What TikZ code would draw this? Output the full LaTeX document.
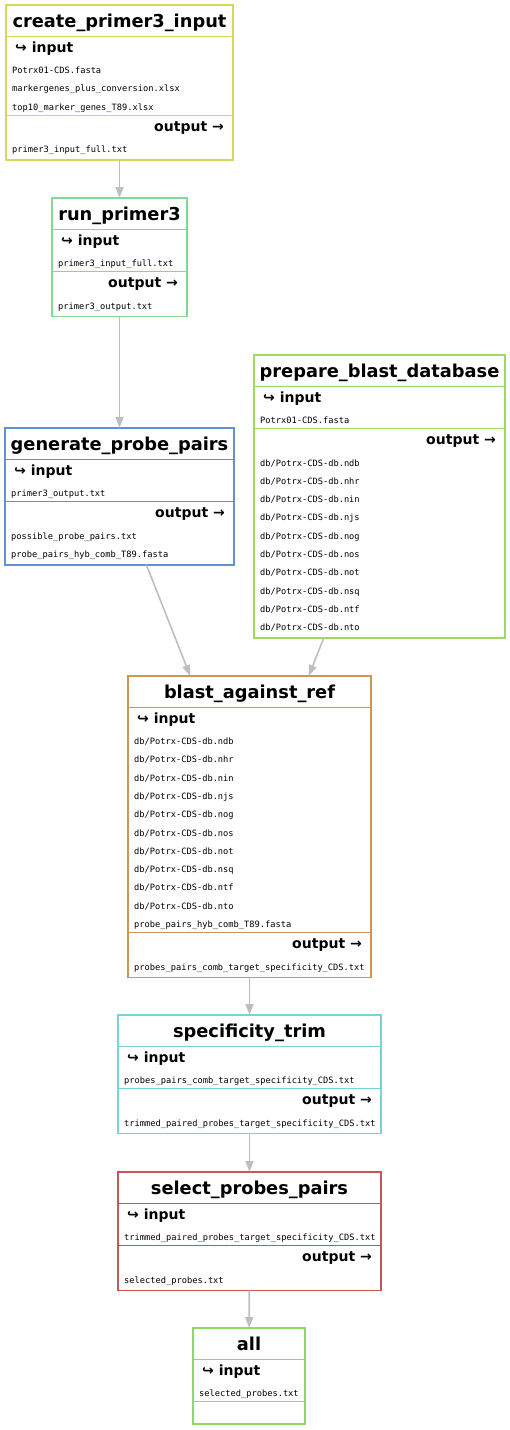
\documentclass[tikz,border=0pt]{standalone}
\usepackage{fontspec}
\setmainfont{DejaVu Sans}
\newfontfamily\filefont{DejaVu Sans Mono}
\usetikzlibrary{arrows.meta}
\definecolor{cCreate}{RGB}{214,217,87}
\definecolor{cRun}{RGB}{130,217,150}
\definecolor{cPrep}{RGB}{160,217,95}
\definecolor{cGen}{RGB}{95,145,217}
\definecolor{cBlast}{RGB}{205,149,87}
\definecolor{cSpec}{RGB}{120,212,212}
\definecolor{cSel}{RGB}{200,85,85}
\definecolor{cAll}{RGB}{140,217,100}
\definecolor{edgegray}{RGB}{190,190,190}
\tikzset{
  rulebox/.style={draw, line width=1.6pt, inner sep=0pt, outer sep=0pt, anchor=north west, fill=white, line join=miter},
  sepline/.style={line width=0.9pt},
  ttl/.style={inner sep=0pt, anchor=base, font=\fontsize{17.8}{20}\selectfont\bfseries},
  inlbl/.style={inner sep=0pt, anchor=base west, font=\fontsize{14}{16}\selectfont\bfseries},
  outlbl/.style={inner sep=0pt, anchor=base east, font=\fontsize{14}{16}\selectfont\bfseries},
  fname/.style={inner sep=0pt, anchor=base west, font=\fontsize{8.7}{10}\selectfont\filefont},
  flow/.style={draw=edgegray, line width=1.6pt, -{Triangle[width=8pt,length=11pt]}}
}
\begin{document}
\begin{tikzpicture}[x=1pt,y=-1pt]
\useasboundingbox (0,0) rectangle (510,1430);

% create_primer3_input
\node[rulebox, draw=cCreate, minimum width=227pt, minimum height=155.1pt] (create) at (6,5) {};
\draw[sepline, cCreate] (6,36) -- (233,36);
\draw[sepline, cCreate] (6,115.1) -- (233,115.1);
\node[ttl] (create-t) at (119.5,27.5) {create\_primer3\_input};
\node[inlbl] (create-in) at (15,52.5) {↪ input};
\node[fname] (create-i1) at (12,73.5) {Potrx01-CDS.fasta};
\node[fname] (create-i2) at (12,91.8) {markergenes\_plus\_conversion.xlsx};
\node[fname] (create-i3) at (12,110.1) {top10\_marker\_genes\_T89.xlsx};
\node[outlbl] (create-out) at (224,131.1) {output →};
\node[fname] (create-o1) at (12,152.6) {primer3\_input\_full.txt};

% run_primer3
\node[rulebox, draw=cRun, minimum width=135pt, minimum height=118.5pt] (run) at (52,198) {};
\draw[sepline, cRun] (52,229) -- (187,229);
\draw[sepline, cRun] (52,271.5) -- (187,271.5);
\node[ttl] (run-t) at (119.5,220.5) {run\_primer3};
\node[inlbl] (run-in) at (61,245.5) {↪ input};
\node[fname] (run-i1) at (58,266.5) {primer3\_input\_full.txt};
\node[outlbl] (run-out) at (178,287.5) {output →};
\node[fname] (run-o1) at (58,309) {primer3\_output.txt};

% prepare_blast_database
\node[rulebox, draw=cPrep, minimum width=251pt, minimum height=283.2pt] (prep) at (254,355) {};
\draw[sepline, cPrep] (254,386) -- (505,386);
\draw[sepline, cPrep] (254,428.5) -- (505,428.5);
\node[ttl] (prep-t) at (379.5,377.5) {prepare\_blast\_database};
\node[inlbl] (prep-in) at (263,402.5) {↪ input};
\node[fname] (prep-i1) at (260,423.5) {Potrx01-CDS.fasta};
\node[outlbl] (prep-out) at (496,444.5) {output →};
\foreach \f [count=\k from 0] in {ndb,nhr,nin,njs,nog,nos,not,nsq,ntf,nto}
  \node[fname] (prep-o\k) at (260,{466+18.3*\k}) {db/Potrx-CDS-db.\f};

% generate_probe_pairs
\node[rulebox, draw=cGen, minimum width=229pt, minimum height=136.8pt] (gen) at (5,428) {};
\draw[sepline, cGen] (5,459) -- (234,459);
\draw[sepline, cGen] (5,501.5) -- (234,501.5);
\node[ttl] (gen-t) at (119.5,450.5) {generate\_probe\_pairs};
\node[inlbl] (gen-in) at (14,475.5) {↪ input};
\node[fname] (gen-i1) at (11,496.5) {primer3\_output.txt};
\node[outlbl] (gen-out) at (225,517.5) {output →};
\node[fname] (gen-o1) at (11,539) {possible\_probe\_pairs.txt};
\node[fname] (gen-o2) at (11,557.3) {probe\_pairs\_hyb\_comb\_T89.fasta};

% blast_against_ref
\node[rulebox, draw=cBlast, minimum width=243pt, minimum height=301.5pt] (blast) at (128,676) {};
\draw[sepline, cBlast] (128,707) -- (371,707);
\draw[sepline, cBlast] (128,932.5) -- (371,932.5);
\node[ttl] (blast-t) at (249.5,698.5) {blast\_against\_ref};
\node[inlbl] (blast-in) at (137,723.5) {↪ input};
\foreach \f [count=\k from 0] in {ndb,nhr,nin,njs,nog,nos,not,nsq,ntf,nto}
  \node[fname] (blast-i\k) at (134,{744.5+18.3*\k}) {db/Potrx-CDS-db.\f};
\node[fname] (blast-i10) at (134,927.5) {probe\_pairs\_hyb\_comb\_T89.fasta};
\node[outlbl] (blast-out) at (362,948.5) {output →};
\node[fname] (blast-o1) at (134,970) {probes\_pairs\_comb\_target\_specificity\_CDS.txt};

% specificity_trim
\node[rulebox, draw=cSpec, minimum width=263pt, minimum height=118.5pt] (spec) at (118,1015) {};
\draw[sepline, cSpec] (118,1046) -- (381,1046);
\draw[sepline, cSpec] (118,1088.5) -- (381,1088.5);
\node[ttl] (spec-t) at (249.5,1037.5) {specificity\_trim};
\node[inlbl] (spec-in) at (127,1062.5) {↪ input};
\node[fname] (spec-i1) at (124,1083.5) {probes\_pairs\_comb\_target\_specificity\_CDS.txt};
\node[outlbl] (spec-out) at (372,1104.5) {output →};
\node[fname] (spec-o1) at (124,1126) {trimmed\_paired\_probes\_target\_specificity\_CDS.txt};

% select_probes_pairs
\node[rulebox, draw=cSel, minimum width=263pt, minimum height=118.5pt] (sel) at (118,1172) {};
\draw[sepline, cSel] (118,1203) -- (381,1203);
\draw[sepline, cSel] (118,1245.5) -- (381,1245.5);
\node[ttl] (sel-t) at (249.5,1194.5) {select\_probes\_pairs};
\node[inlbl] (sel-in) at (127,1219.5) {↪ input};
\node[fname] (sel-i1) at (124,1240.5) {trimmed\_paired\_probes\_target\_specificity\_CDS.txt};
\node[outlbl] (sel-out) at (372,1261.5) {output →};
\node[fname] (sel-o1) at (124,1283) {selected\_probes.txt};

% all
\node[rulebox, draw=cAll, minimum width=112pt, minimum height=96pt] (all) at (193,1328) {};
\draw[sepline, cAll] (193,1359) -- (305,1359);
\draw[sepline, cAll] (193,1401.5) -- (305,1401.5);
\node[ttl] (all-t) at (249,1350.5) {all};
\node[inlbl] (all-in) at (202,1375.5) {↪ input};
\node[fname] (all-i1) at (199,1396.5) {selected\_probes.txt};

% connectors
\draw[flow] (create) -- (run);
\draw[flow] (run) -- (gen);
\draw[flow] (gen) -- (blast);
\draw[flow] (prep) -- (blast);
\draw[flow] (blast) -- (spec);
\draw[flow] (spec) -- (sel);
\draw[flow] (sel) -- (all);
\end{tikzpicture}
\end{document}
